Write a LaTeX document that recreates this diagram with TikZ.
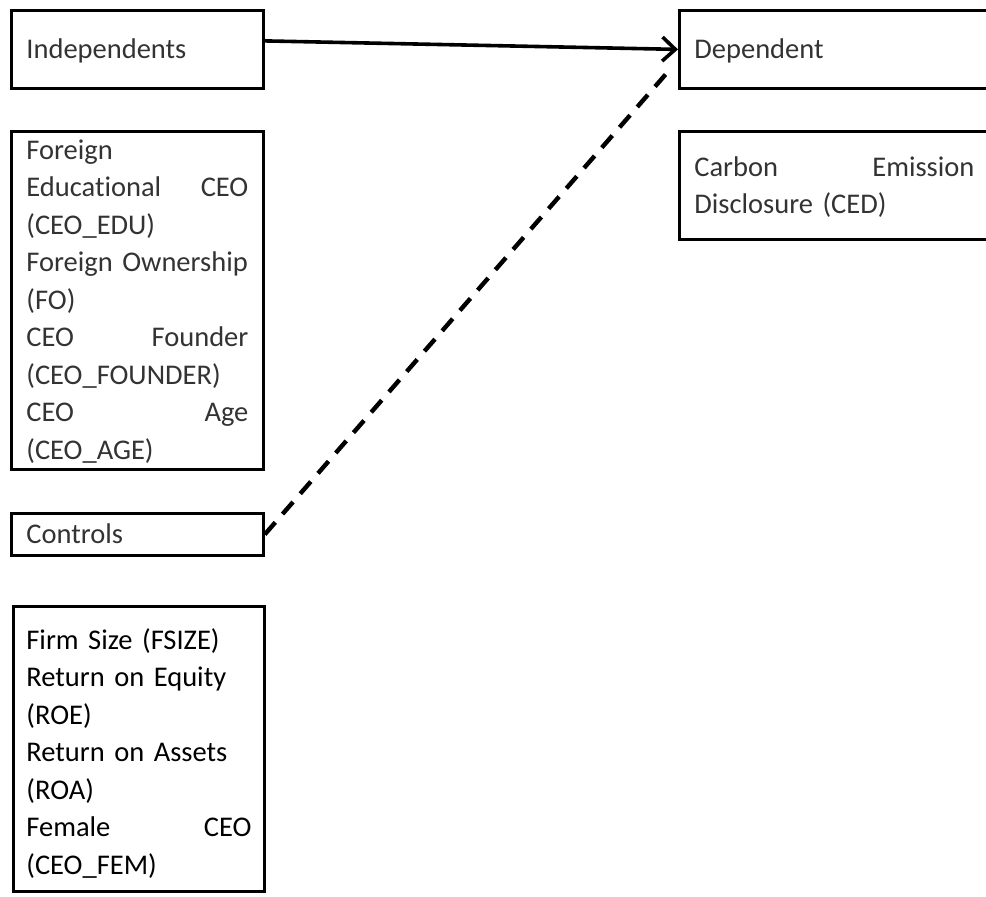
\documentclass[tikz,border=0pt]{standalone}
\usepackage{fontspec}
\setmainfont{Carlito}[Ligatures=NoCommon]
\usetikzlibrary{arrows.meta}
\newcommand{\spreadgap}{\hskip 0pt plus 1filll}
\tikzset{box/.style = {draw, line width=2.8pt, anchor=north west, align=left,
                       inner xsep=15pt, inner ysep=0pt, text height=21pt,
                       font=\fontsize{28.5}{37.5}\selectfont}}
\tikzset{lightbox/.style = {box, text=black!80}}
\tikzset{link/.style = {line width=3.6pt, -{Straight Barb[length=13pt, width=24pt]}}}
\tikzset{ctrllink/.style = {line width=4.4pt, dash pattern=on 16pt off 11pt}}

\begin{document}
\begin{tikzpicture}[x=1pt, y=-1pt]
    \useasboundingbox (0, 0) rectangle (986, 897);
    \clip (0, 0) rectangle (986, 897);

    \node [lightbox, text width=222pt, minimum height=78pt, text depth=3pt] (indep) at (10, 9) {Independents};
    \node [lightbox, text width=290pt, minimum height=78pt, text depth=3pt] (dep) at (678, 9) {Dependent};
    \node [lightbox, text width=280pt, minimum height=108pt, text depth=39pt] (ced) at (678, 130)
        {Carbon\spreadgap Emission\\ Disclosure (CED)};

    \node [lightbox, text width=222pt, minimum height=338pt, text depth=303pt] (indlist) at (10, 130)
        {Foreign\\ Educational\spreadgap CEO\\ (CEO\_EDU)\\ Foreign Ownership\\ (FO)\\
         CEO\spreadgap Founder\\ (CEO\_FOUNDER)\\ CEO\spreadgap Age\\ (CEO\_AGE)};

    \node [lightbox, text width=222pt, minimum height=42pt, text depth=3pt] (ctrl) at (10, 512) {Controls};
    \node [box, text width=225pt, inner xsep=13pt, minimum height=285pt, text depth=220pt] (ctrllist) at (12, 605)
        {Firm Size (FSIZE)\\ Return on Equity\\ (ROE)\\ Return on Assets\\ (ROA)\\
         Female\spreadgap CEO\\ (CEO\_FEM)};

    \draw [link] ([yshift=8.5pt]indep.east) -- (dep.west);
    \draw [ctrllink] (ctrl.east) -- ([xshift=-8pt, yshift=-20pt]dep.west);
\end{tikzpicture}
\end{document}
